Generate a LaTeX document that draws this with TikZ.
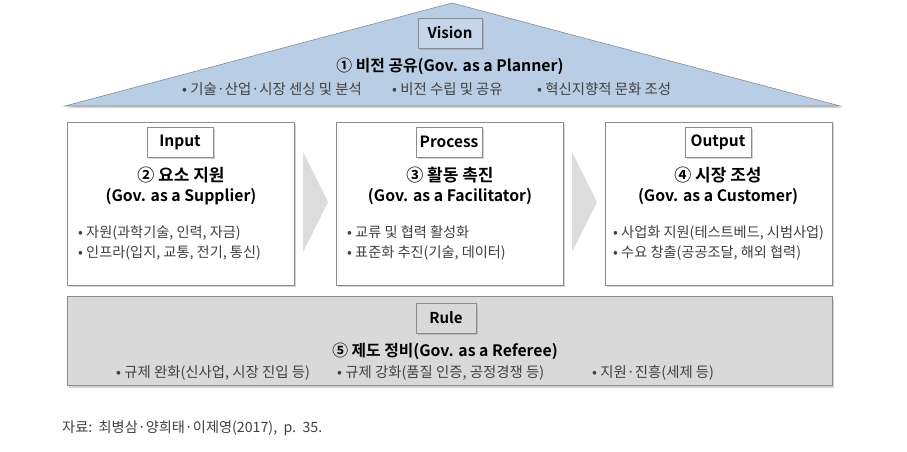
\documentclass[tikz,border=0pt]{standalone}
\usepackage{fontspec}
\setmainfont{Noto Sans CJK KR}[BoldFont={Noto Sans CJK KR Bold}]
\usetikzlibrary{shadows}
\definecolor{trifill}{HTML}{B9CDE5}
\definecolor{labblue}{HTML}{C6D6EA}
\definecolor{rulefill}{HTML}{D9D9D9}
\definecolor{chevfill}{HTML}{DCDCDC}
\definecolor{edge}{HTML}{8C8C8C}
\definecolor{bul}{HTML}{404040}
\tikzset{
  shad/.style={drop shadow={opacity=0.35,shadow xshift=2pt,shadow yshift=-2pt}},
  bigbox/.style={draw=edge,fill=white,line width=0.6pt,shad,minimum width=227pt,minimum height=163pt,inner sep=0pt},
  lab/.style={draw=edge,fill=white,line width=0.6pt,shad,minimum width=66pt,minimum height=30pt,inner sep=0pt,font=\bfseries\fontsize{15.5}{17}\selectfont},
  ttl/.style={font=\bfseries\fontsize{15.8}{20}\selectfont,align=center,inner sep=0pt},
  bigttl/.style={font=\bfseries\fontsize{15.8}{18}\selectfont,inner sep=0pt},
  btxt/.style={font=\fontsize{14.2}{20}\selectfont,text=bul,inner sep=0pt},
  wtxt/.style={font=\fontsize{14.4}{16}\selectfont,text=bul,inner sep=0pt,anchor=west},
}
\newcommand{\kbig}{\fontsize{17}{20}\selectfont}
\begin{document}
\begin{tikzpicture}[x=1pt,y=-1pt]
\useasboundingbox (0,0) rectangle (907,452);
% Vision triangle
\filldraw[fill=trifill,draw=edge,line width=0.6pt,shad] (65,106) -- (452,3) -- (840,106) -- cycle;
\node[lab,fill=labblue,minimum width=64pt,font=\bfseries\fontsize{15}{17}\selectfont] (vis) at (450,33) {Vision};
\node[bigttl] (vtitle) at (450,66) {① 비전 공유(Gov. as a Planner)};
\node[wtxt] (v1) at (182,89) {• 기술·산업·시장 센싱 및 분석};
\node[wtxt] (v2) at (392,89) {• 비전 수립 및 공유};
\node[wtxt] (v3) at (537,89) {• 혁신지향적 문화 조성};
% chevrons
\fill[chevfill] (303,152) -- (328,202) -- (303,252) -- cycle;
\fill[chevfill] (572,152) -- (597,202) -- (572,252) -- cycle;
% boxes
\node[bigbox] (inb) at (180.5,203.5) {};
\node[bigbox] (prb) at (449.5,203.5) {};
\node[bigbox] (oub) at (718.5,203.5) {};
\node[lab] (inl) at (180,142) {Input};
\node[lab] (prl) at (449,142) {Process};
\node[lab] (oul) at (718,142) {Output};
\node[ttl] (int) at (181,186) {{\kbig ② 요소 지원}\\(Gov. as a Supplier)};
\node[ttl] (prt) at (450,186) {{\kbig ③ 활동 촉진}\\(Gov. as a Facilitator)};
\node[ttl] (out) at (718,186) {{\kbig ④ 시장 조성}\\(Gov. as a Customer)};
\node[btxt,anchor=west,align=left] (inx) at (78,243) {• 자원(과학기술, 인력, 자금)\\• 인프라(입지, 교통, 전기, 통신)};
\node[btxt,anchor=west,align=left] (prx) at (347,243) {• 교류 및 협력 활성화\\• 표준화 추진(기술, 데이터)};
\node[btxt,anchor=west,align=left] (oux) at (613,243) {• 사업화 지원(테스트베드, 시범사업)\\• 수요 창출(공공조달, 해외 협력)};
% rule
\node[draw=edge,fill=rulefill,line width=0.6pt,shad,minimum width=765pt,minimum height=89pt,inner sep=0pt] (rub) at (449.5,341) {};
\node[lab,fill=rulefill,minimum width=60pt,font=\bfseries\fontsize{15}{17}\selectfont] (rul) at (446,318) {Rule};
\node[bigttl] (rtt) at (445,351) {⑤ 제도 정비(Gov. as a Referee)};
\node[wtxt] (r1) at (116,373) {• 규제 완화(신사업, 시장 진입 등)};
\node[wtxt] (r2) at (337,373) {• 규제 강화(품질 인증, 공정경쟁 등)};
\node[wtxt] (r3) at (592,373) {• 지원·진흥(세제 등)};
% source
\node[font=\fontsize{14.2}{16}\selectfont,text=bul,anchor=west,inner sep=0pt] (src) at (62,428) {자료:\ \ 최병삼·양희태·이제영(2017),\ \ p.\ \ 35.};
\end{tikzpicture}
\end{document}
